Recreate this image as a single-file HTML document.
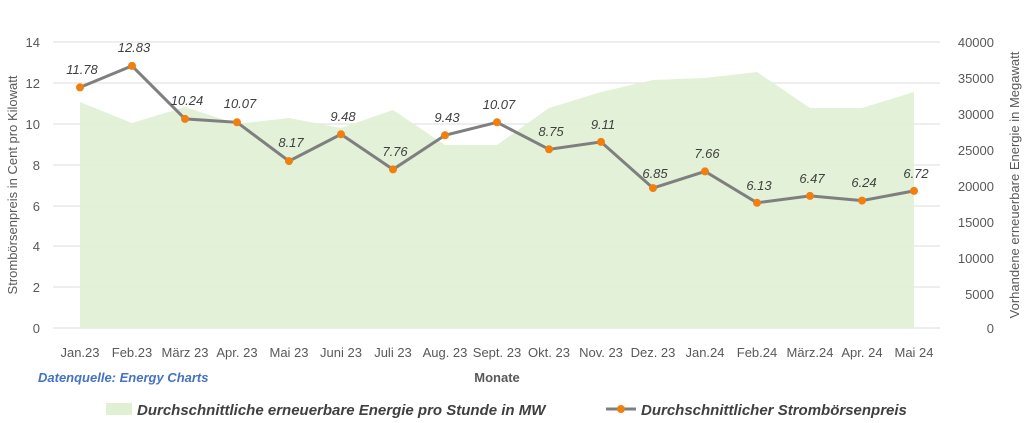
<!DOCTYPE html>
<html><head><meta charset="utf-8"><style>
body{margin:0;background:#fff;width:1024px;height:418px;overflow:hidden}
svg text{font-family:"Liberation Sans",sans-serif}
</style></head><body>
<svg width="1024" height="418" viewBox="0 0 1024 418">
<g stroke="#e3e3e3" stroke-width="1.3">
<line x1="53" x2="940" y1="42" y2="42"/><line x1="53" x2="940" y1="83" y2="83"/>
<line x1="53" x2="940" y1="124" y2="124"/><line x1="53" x2="940" y1="165" y2="165"/>
<line x1="53" x2="940" y1="206" y2="206"/><line x1="53" x2="940" y1="246" y2="246"/>
<line x1="53" x2="940" y1="287" y2="287"/><line x1="53" x2="940" y1="328" y2="328"/>
</g>
<polygon fill="#dff0d3" opacity="0.9" points="80,328 80,102 132,123 185,107 237,124 289,118 341,128 393,110 445,145 497,145 549,108 601,92 653,80 705,78 757,72 810,108 862,108 914,92 914,328"/>
<polyline fill="none" stroke="#7f7f7f" stroke-width="3" points="80,87.4 132,65.9 185,118.9 237,122.3 289,161.1 341,134.3 393,169.4 445,135.3 497,122.3 549,149.3 601,141.9 653,188.1 705,171.4 757,202.8 810,195.9 862,200.6 914,190.9"/>
<g fill="#f07f10">
<circle cx="80" cy="87.4" r="4"/><circle cx="132" cy="65.9" r="4"/><circle cx="185" cy="118.9" r="4"/><circle cx="237" cy="122.3" r="4"/><circle cx="289" cy="161.1" r="4"/><circle cx="341" cy="134.3" r="4"/><circle cx="393" cy="169.4" r="4"/><circle cx="445" cy="135.3" r="4"/><circle cx="497" cy="122.3" r="4"/><circle cx="549" cy="149.3" r="4"/><circle cx="601" cy="141.9" r="4"/><circle cx="653" cy="188.1" r="4"/><circle cx="705" cy="171.4" r="4"/><circle cx="757" cy="202.8" r="4"/><circle cx="810" cy="195.9" r="4"/><circle cx="862" cy="200.6" r="4"/><circle cx="914" cy="190.9" r="4"/>
</g>
<g font-size="13" font-style="italic" fill="#404040" text-anchor="middle">
<text x="82" y="74">11.78</text><text x="134" y="52">12.83</text><text x="187" y="105">10.24</text><text x="240" y="108">10.07</text><text x="291" y="147">8.17</text><text x="343" y="121">9.48</text><text x="395" y="156">7.76</text><text x="447" y="122">9.43</text><text x="499" y="109">10.07</text><text x="551" y="136">8.75</text><text x="603" y="129">9.11</text><text x="655" y="178">6.85</text><text x="707" y="158">7.66</text><text x="759" y="190">6.13</text><text x="812" y="183">6.47</text><text x="864" y="187">6.24</text><text x="916" y="178">6.72</text>
</g>
<g font-size="13" fill="#595959" text-anchor="end">
<text x="40" y="47">14</text><text x="40" y="88">12</text><text x="40" y="129">10</text><text x="40" y="170">8</text><text x="40" y="211">6</text><text x="40" y="251">4</text><text x="40" y="292">2</text><text x="40" y="333">0</text>
</g>
<g font-size="13" fill="#595959" text-anchor="end">
<text x="994" y="47">40000</text><text x="994" y="83">35000</text><text x="994" y="119">30000</text><text x="994" y="155">25000</text><text x="994" y="191">20000</text><text x="994" y="227">15000</text><text x="994" y="263">10000</text><text x="994" y="299">5000</text><text x="994" y="333">0</text>
</g>
<g font-size="13" fill="#595959" text-anchor="middle">
<text x="80" y="357">Jan.23</text><text x="132" y="357">Feb.23</text><text x="185" y="357">März 23</text><text x="237" y="357">Apr. 23</text><text x="289" y="357">Mai 23</text><text x="341" y="357">Juni 23</text><text x="393" y="357">Juli 23</text><text x="445" y="357">Aug. 23</text><text x="497" y="357">Sept. 23</text><text x="549" y="357">Okt. 23</text><text x="601" y="357">Nov. 23</text><text x="653" y="357">Dez. 23</text><text x="705" y="357">Jan.24</text><text x="757" y="357">Feb.24</text><text x="810" y="357">März.24</text><text x="862" y="357">Apr. 24</text><text x="914" y="357">Mai 24</text>
</g>
<text x="497" y="382" font-size="13" font-weight="bold" fill="#595959" text-anchor="middle">Monate</text>
<text x="38" y="382" font-size="13" font-weight="bold" font-style="italic" fill="#4472c4">Datenquelle: Energy Charts</text>
<text transform="translate(17,185) rotate(-90)" font-size="13" fill="#595959" text-anchor="middle">Strombörsenpreis in Cent pro Kilowatt</text>
<text transform="translate(1019,185) rotate(-90)" font-size="13" fill="#595959" text-anchor="middle">Vorhandene erneuerbare Energie in Megawatt</text>
<rect x="106" y="403" width="26" height="12" fill="#dff0d3"/>
<text x="137" y="415" font-size="15" font-weight="bold" font-style="italic" fill="#404040">Durchschnittliche erneuerbare Energie pro Stunde in MW</text>
<line x1="606" x2="636" y1="409" y2="409" stroke="#7f7f7f" stroke-width="3"/>
<circle cx="621" cy="409" r="4" fill="#f07f10"/>
<text x="641" y="415" font-size="15" font-weight="bold" font-style="italic" fill="#404040">Durchschnittlicher Strombörsenpreis</text>
</svg>
</body></html>
